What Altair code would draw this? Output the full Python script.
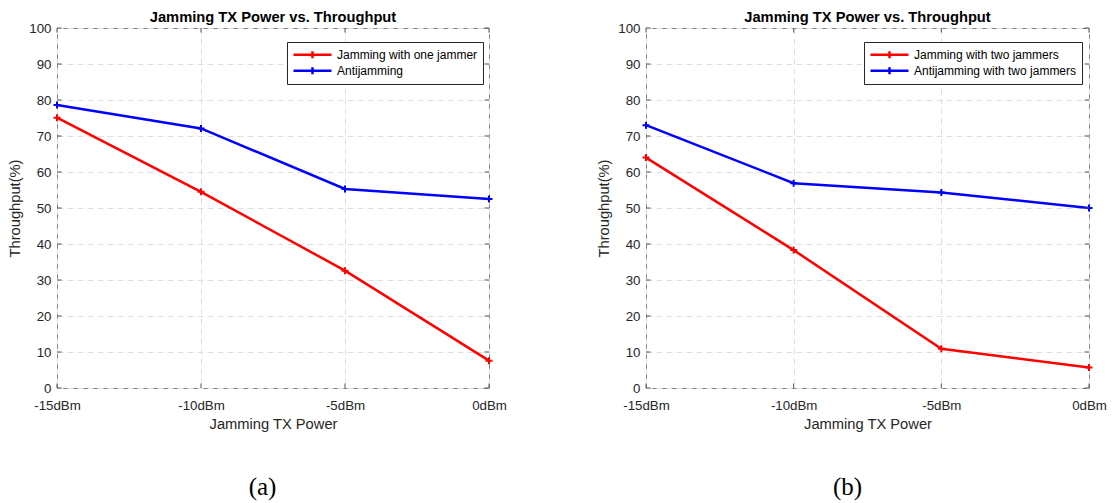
import altair as alt
import pandas as pd

# ---- data ----
powers = [-15, -10, -5, 0]
jam_one = [75.1, 54.5, 32.6, 7.6]
anti_one = [78.6, 72.1, 55.3, 52.5]
jam_two = [64.0, 38.3, 10.9, 5.7]
anti_two = [73.0, 56.9, 54.3, 50.0]
y_ticks = list(range(0, 101, 10))

names_a = ["Jamming with one jammer", "Antijamming"]
names_b = ["Jamming with two jammers", "Antijamming with two jammers"]
chart_title = "Jamming TX Power vs. Throughput"
x_title = "Jamming TX Power"
y_title = "Throughput(%)"

FONT = "Liberation Sans"
SERIF = "Liberation Serif"
H = 360
PLUS = "M-1,0L1,0M0,-1L0,1"
LEG_SYM = "M-1,0L1,0M0,-0.19L0,0.19"


def panel(names, red_vals, blue_vals, width, caption, cap_x, leg_x):
    df = pd.DataFrame({
        "power": powers * 2,
        "value": red_vals + blue_vals,
        "series": [names[0]] * len(powers) + [names[1]] * len(powers),
    })
    color = alt.Color(
        "series:N",
        scale=alt.Scale(domain=names, range=["#ff0000", "#0000ff"]),
        legend=alt.Legend(
            title=None, orient="none", legendX=leg_x, legendY=14,
            symbolType=LEG_SYM, symbolSize=1444, symbolStrokeWidth=2.5,
            symbolOffset=0, labelOffset=4, clipHeight=15.5, rowPadding=0,
            padding=5, strokeColor="#262626", fillColor="white",
            labelFont=FONT, labelFontSize=12, labelColor="#000000",
            labelLimit=400,
        ),
    )
    x_axis = alt.Axis(
        values=powers, labelExpr="datum.value + 'dBm'", title=x_title,
        ticks=False, domain=False, labelFlush=False, labelPadding=10,
        labelOverlap=False,
        titlePadding=5, gridDash=[6, 4], gridColor="#dedede",
        labelFont=FONT, labelFontSize=13.3, labelColor="#262626",
        titleFont=FONT, titleFontSize=14.7, titleFontWeight="normal",
        titleColor="#262626",
    )
    y_axis = alt.Axis(
        values=y_ticks, title=y_title, ticks=False, domain=False,
        labelOverlap=False, labelFlush=False,
        labelPadding=6, titlePadding=6, gridDash=[6, 4],
        gridColor="#dedede", labelFont=FONT, labelFontSize=13.3,
        labelColor="#262626", titleFont=FONT, titleFontSize=14.7,
        titleFontWeight="normal", titleColor="#262626",
    )
    x_scale = alt.Scale(domain=[-15, 0], nice=False, zero=False)
    y_scale = alt.Scale(domain=[0, 100], nice=False)

    def X(field="power"):
        return alt.X(f"{field}:Q", scale=x_scale, axis=x_axis)

    def Y(field="value"):
        return alt.Y(f"{field}:Q", scale=y_scale, axis=y_axis)

    base = alt.Chart(df)
    lines = base.mark_line(strokeWidth=2.5).encode(x=X(), y=Y(), color=color)
    points = base.mark_point(
        shape=PLUS, size=49, filled=False, strokeWidth=2, opacity=1
    ).encode(x=X(), y=Y(), color=alt.Color("series:N", legend=None))

    ydf = pd.DataFrame({"value": y_ticks})
    xdf = pd.DataFrame({"power": powers})
    tk = dict(color="#555555", strokeWidth=1)
    yl = alt.Chart(ydf).mark_rule(**tk).encode(
        y=Y(), x=alt.value(0), x2=alt.value(4.5))
    yr = alt.Chart(ydf).mark_rule(**tk).encode(
        y=Y(), x=alt.value(width - 4.5), x2=alt.value(width))
    xb = alt.Chart(xdf).mark_rule(**tk).encode(
        x=X(), y=alt.value(H - 4.5), y2=alt.value(H))
    xt = alt.Chart(xdf).mark_rule(**tk).encode(
        x=X(), y=alt.value(0), y2=alt.value(4.5))

    cap = alt.Chart(pd.DataFrame({"c": [caption]})).mark_text(
        font=SERIF, fontSize=25, color="#000000", baseline="middle",
        align="center",
    ).encode(text="c:N", x=alt.value(cap_x), y=alt.value(459))

    return alt.layer(lines, points, yl, yr, xb, xt, cap).properties(
        width=width, height=H,
        title=alt.TitleParams(
            chart_title, font=FONT, fontSize=14.7, fontWeight="bold",
            color="#000000", anchor="middle", frame="group", offset=-4,
        ),
    )


left = panel(names_a, jam_one, anti_one, 432, "(a)", 205.5, 230)
right = panel(names_b, jam_two, anti_two, 443, "(b)", 201.5, 218)

chart = alt.hconcat(left, right, spacing=89).resolve_scale(
    color="independent"
).properties(
    padding={"left": 7, "top": 9, "right": 0, "bottom": 0},
    background="white",
).configure_view(stroke="#808080", strokeWidth=1)

chart.save("out.html", embed_options={"renderer": "svg", "actions": False})
